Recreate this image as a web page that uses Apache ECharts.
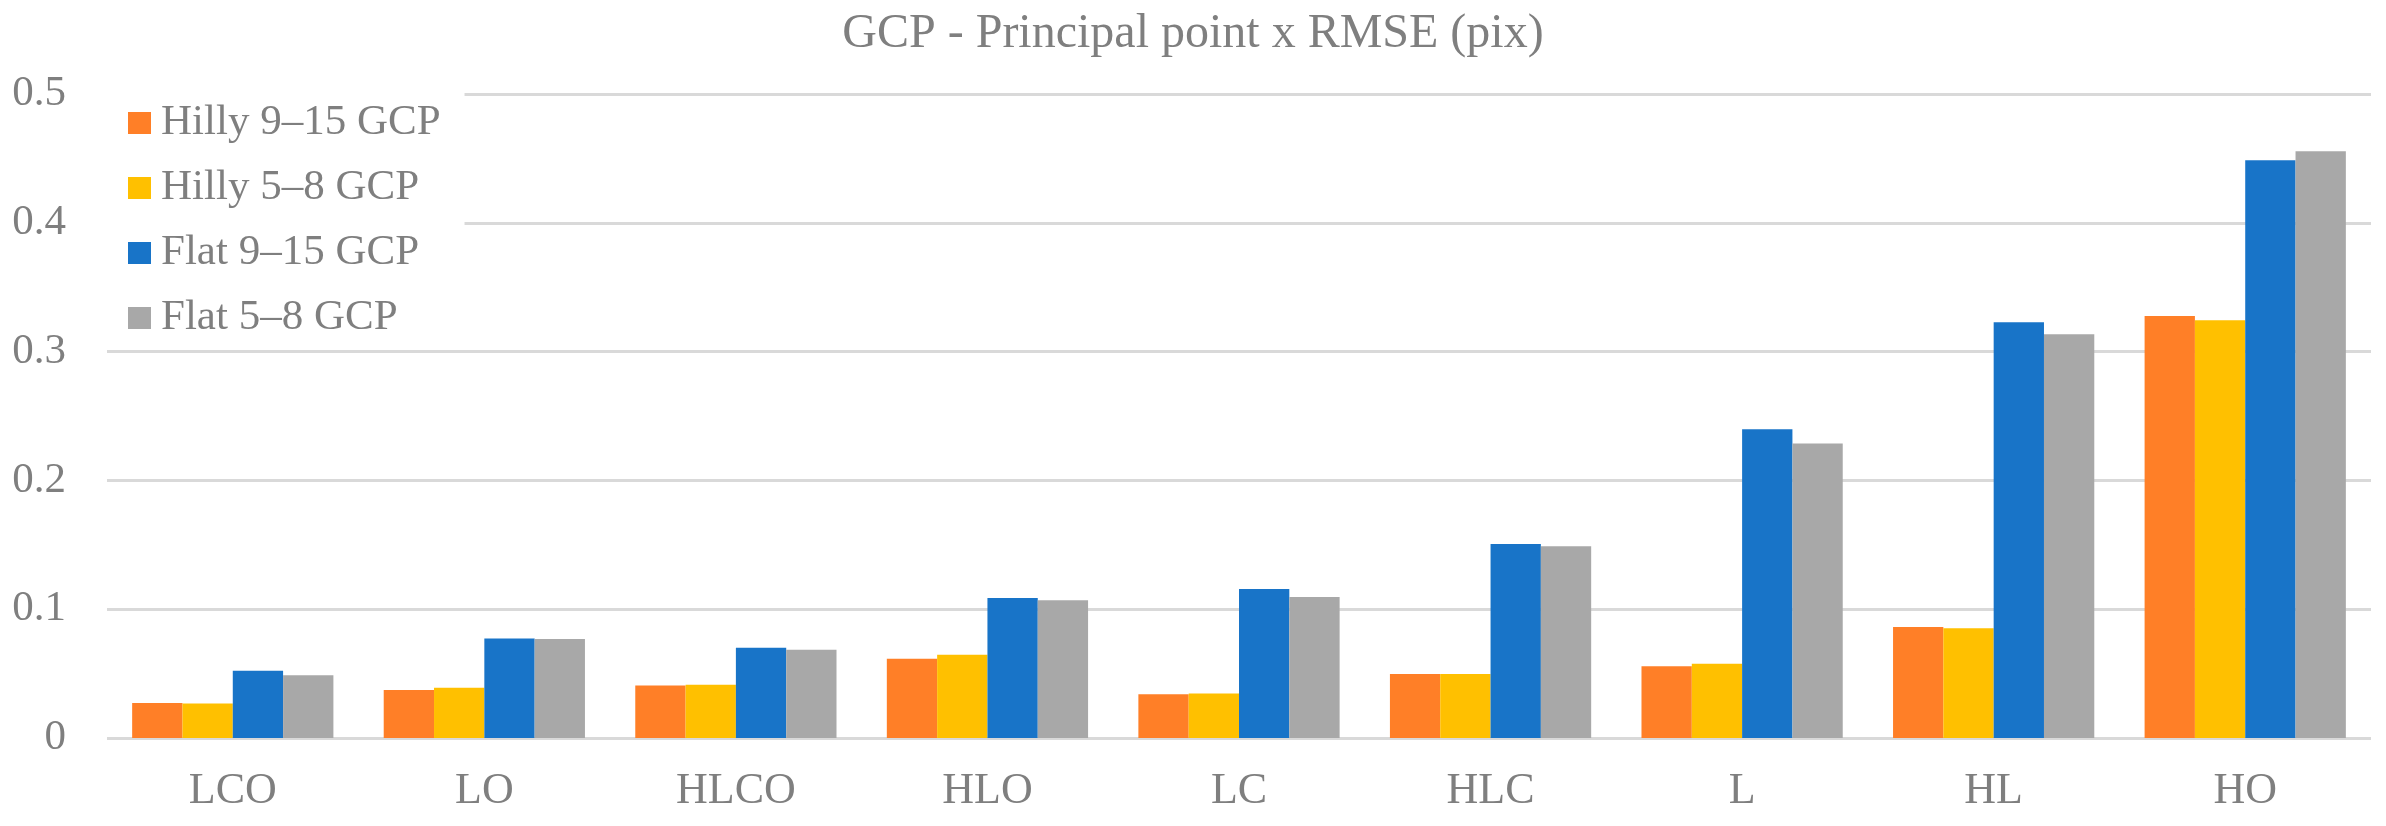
<!DOCTYPE html>
<html>
<head>
<meta charset="utf-8">
<script src="https://cdn.jsdelivr.net/npm/echarts@6/dist/echarts.min.js"></script>
<style>
html,body{margin:0;padding:0;background:#fff;}
#chart{width:2386px;height:826px;}
</style>
</head>
<body>
<div id="chart"></div>
<script>
const titleText = 'GCP - Principal point x RMSE (pix)';
const categories = ['LCO', 'LO', 'HLCO', 'HLO', 'LC', 'HLC', 'L', 'HL', 'HO'];
const seriesNames = ['Hilly 9–15 GCP', 'Hilly 5–8 GCP', 'Flat 9–15 GCP', 'Flat 5–8 GCP'];
const hilly915 = [0.0272, 0.0373, 0.0408, 0.0616, 0.0340, 0.0496, 0.0558, 0.0862, 0.3276];
const hilly58  = [0.0267, 0.0391, 0.0413, 0.0647, 0.0345, 0.0496, 0.0577, 0.0852, 0.3243];
const flat915  = [0.0523, 0.0772, 0.0701, 0.1086, 0.1156, 0.1506, 0.2398, 0.3227, 0.4486];
const flat58   = [0.0487, 0.0769, 0.0686, 0.1070, 0.1094, 0.1488, 0.2287, 0.3134, 0.4556];
const colors = ['#ff7f27', '#ffc000', '#1874c8', '#a8a8a8'];

const FONT = '"Liberation Serif", "Times New Roman", serif';
const TXT = '#7f7f7f';

const chart = echarts.init(document.getElementById('chart'), null, {renderer: 'canvas'});
const dataArr = [hilly915, hilly58, flat915, flat58];
chart.setOption({
  animation: false,
  backgroundColor: '#ffffff',
  color: colors,
  title: {
    text: titleText,
    left: 'center',
    top: 10,
    padding: 0,
    textStyle: {fontFamily: FONT, fontSize: 48, fontWeight: 'normal', color: TXT, lineHeight: 48}
  },
  legend: {
    orient: 'vertical',
    left: 107,
    top: 81,
    padding: [20, 24, 6, 21],
    backgroundColor: '#ffffff',
    itemWidth: 23,
    itemHeight: 22,
    itemGap: 21,
    icon: 'rect',
    data: seriesNames,
    textStyle: {fontFamily: FONT, fontSize: 43, color: TXT, lineHeight: 44, padding: [0, 0, 0, 5]}
  },
  grid: {left: 107, right: 15, top: 94, bottom: 88, containLabel: false},
  xAxis: {
    type: 'category',
    data: categories,
    axisLine: {show: false},
    axisTick: {show: false},
    axisLabel: {fontFamily: FONT, fontSize: 44, color: TXT, margin: 31, lineHeight: 44}
  },
  yAxis: {
    type: 'value',
    min: 0,
    max: 0.5,
    interval: 0.1,
    axisLine: {show: false},
    axisTick: {show: false},
    axisLabel: {fontFamily: FONT, fontSize: 43, color: TXT, margin: 41, lineHeight: 43},
    splitLine: {show: true, lineStyle: {color: '#d9d9d9', width: 3}}
  },
  series: seriesNames.map((n, i) => ({
    name: n,
    type: 'bar',
    data: dataArr[i],
    barGap: '0%',
    barCategoryGap: '20%',
    itemStyle: {color: colors[i]}
  }))
});
</script>
</body>
</html>
